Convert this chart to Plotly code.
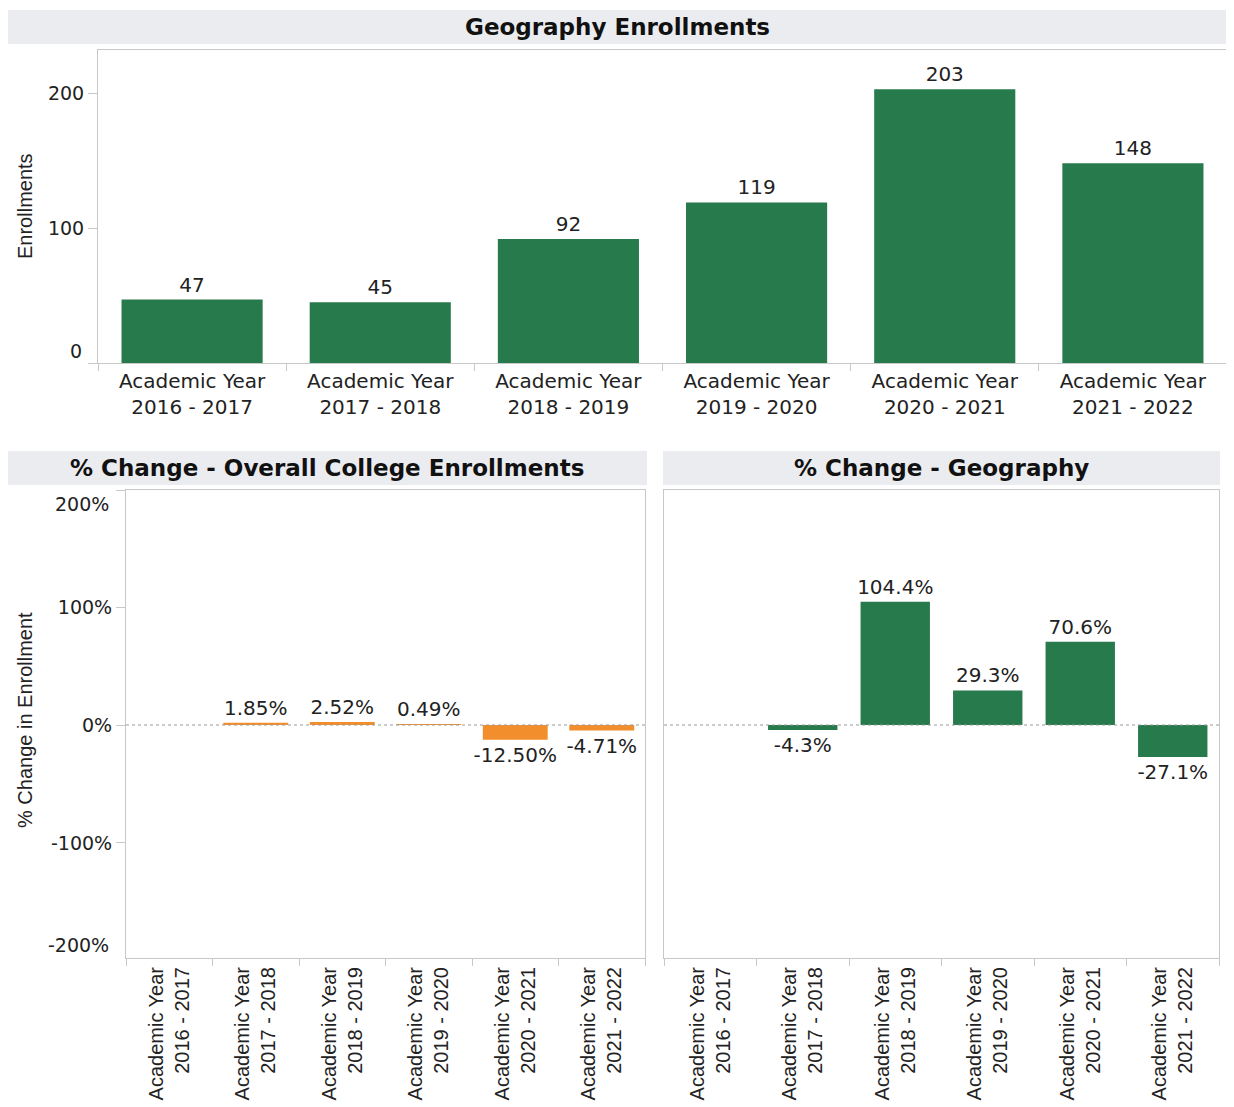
import plotly.graph_objects as go

# ---------------- data ----------------
years = ["Academic Year<br>2016 - 2017", "Academic Year<br>2017 - 2018",
         "Academic Year<br>2018 - 2019", "Academic Year<br>2019 - 2020",
         "Academic Year<br>2020 - 2021", "Academic Year<br>2021 - 2022"]
enrollments = [47, 45, 92, 119, 203, 148]
college_pct_change = [None, 1.85, 2.52, 0.49, -12.50, -4.71]
geography_pct_change = [None, -4.3, 104.4, 29.3, 70.6, -27.1]

top_title = "Geography Enrollments"
bl_title = "% Change - Overall College Enrollments"
br_title = "% Change - Geography"

GREEN = "#277A4C"
ORANGE = "#F28E2B"
FRAME = "#C8C8C8"
BAR_BG = "#EBECF0"
TXT = "#222222"
HFONT = "DejaVu Sans"
VFONT = "Liberation Sans"

# page has an 8px body margin; work in page pixel coordinates
OFF = 8
W, H = 1234 - OFF, 1107 - OFF
def px(x):
    return (x - OFF) / W
def py(y):
    return 1 - (y - OFF) / H

fig = go.Figure()

fig.add_trace(go.Bar(x=years, y=enrollments, marker_color=GREEN, marker_line_width=0,
                     texttemplate="%{y}", textposition="outside", constraintext="none",
                     textfont=dict(family=HFONT, size=20, color=TXT), cliponaxis=False,
                     xaxis="x", yaxis="y", hoverinfo="x+y"))
fig.add_trace(go.Bar(x=years, y=college_pct_change, marker_color=ORANGE, marker_line_width=0,
                     texttemplate="%{y:.2f}%", textposition="outside", constraintext="none",
                     textfont=dict(family=HFONT, size=20, color=TXT), cliponaxis=False,
                     xaxis="x2", yaxis="y2"))
fig.add_trace(go.Bar(x=years, y=geography_pct_change, marker_color=GREEN, marker_line_width=0,
                     texttemplate="%{y:.1f}%", textposition="outside", constraintext="none",
                     textfont=dict(family=HFONT, size=20, color=TXT), cliponaxis=False,
                     xaxis="x3", yaxis="y3"))

common_x = dict(type="category", showline=True, mirror=True, linecolor=FRAME, linewidth=1,
                ticks="outside", tickson="boundaries", ticklen=7, tickcolor=FRAME,
                showgrid=False, fixedrange=True)
common_y = dict(showline=True, mirror=True, linecolor=FRAME, linewidth=1, showgrid=False,
                zeroline=False, ticks="outside", ticklen=9, tickcolor=FRAME, fixedrange=True)

fig.update_layout(
    width=W, height=H,
    margin=dict(l=0, r=0, t=0, b=0),
    paper_bgcolor="white", plot_bgcolor="white",
    showlegend=False, bargap=0.25,
    font=dict(family=HFONT, color=TXT),
    xaxis=dict(domain=[px(98), px(1227)], anchor="y",
               tickfont=dict(family=HFONT, size=20, color=TXT), **common_x),
    yaxis=dict(domain=[py(363), py(50)], anchor="x", range=[0, 232],
               tickvals=[0, 100, 200], ticktext=["", "100", "200"],
               tickfont=dict(family=HFONT, size=19, color=TXT), **common_y),
    xaxis2=dict(domain=[px(126), px(645)], anchor="y2", tickangle=-90,
                tickfont=dict(family=VFONT, size=20, color=TXT), **common_x),
    yaxis2=dict(domain=[py(958), py(490)], anchor="x2", range=[-197.5, 199.2],
                tickvals=[-100, 0, 100, 199.2], ticktext=["-100%", "0%", "100%", ""],
                tickfont=dict(family=HFONT, size=19, color=TXT), **common_y),
    xaxis3=dict(domain=[px(664), px(1219)], anchor="y3", tickangle=-90,
                tickfont=dict(family=VFONT, size=20, color=TXT), **common_x),
    yaxis3=dict(domain=[py(958), py(490)], anchor="x3", range=[-197.5, 199.2],
                showticklabels=False, showline=True, mirror=True, linecolor=FRAME,
                showgrid=False, zeroline=False, ticks="", fixedrange=True),
)

shapes = []
# title bars
shapes.append(dict(type="rect", xref="paper", yref="paper", x0=px(7), x1=px(1228),
                   y0=py(44), y1=py(10), fillcolor=BAR_BG, line_width=0, layer="below"))
for (x0, x1) in [(7, 647), (663, 1220)]:
    shapes.append(dict(type="rect", xref="paper", yref="paper", x0=px(x0), x1=px(x1),
                       y0=py(485), y1=py(451), fillcolor=BAR_BG, line_width=0, layer="below"))
# dashed zero lines
for ax, yref in [("x2", "y2"), ("x3", "y3")]:
    shapes.append(dict(type="line", xref=f"{ax} domain", yref=yref, x0=0, x1=1, y0=0, y1=0,
                       line=dict(color="#999999", width=1, dash="3px,3px"), layer="above"))
fig.update_layout(shapes=shapes)

ann = []
for txt, cx, cy in [(top_title, 617, 27), (bl_title, 327, 468), (br_title, 941, 468)]:
    ann.append(dict(text=f"<b>{txt}</b>", x=px(cx), y=py(cy), xref="paper", yref="paper",
                    showarrow=False, font=dict(family=HFONT, size=23, color="#111111"),
                    xanchor="center", yanchor="middle"))
# axis titles
ann.append(dict(text="Enrollments", x=px(25), y=py(206), xref="paper", yref="paper",
                showarrow=False, textangle=-90, font=dict(family=VFONT, size=20, color=TXT),
                xanchor="center", yanchor="middle"))
ann.append(dict(text="% Change in Enrollment", x=px(25), y=py(720), xref="paper", yref="paper",
                showarrow=False, textangle=-90, font=dict(family=VFONT, size=20, color=TXT),
                xanchor="center", yanchor="middle"))
# edge tick labels (shifted inward as in the original)
ann.append(dict(text="0", x=px(84), y=py(351), xref="paper", yref="paper", showarrow=False,
                font=dict(family=HFONT, size=19, color=TXT), xanchor="right", yanchor="middle"))
ann.append(dict(text="200%", x=px(111), y=py(504), xref="paper", yref="paper", showarrow=False,
                font=dict(family=HFONT, size=19, color=TXT), xanchor="right", yanchor="middle"))
ann.append(dict(text="-200%", x=px(111), y=py(945), xref="paper", yref="paper", showarrow=False,
                font=dict(family=HFONT, size=19, color=TXT), xanchor="right", yanchor="middle"))
fig.update_layout(annotations=ann)

fig.write_html("out.html")
